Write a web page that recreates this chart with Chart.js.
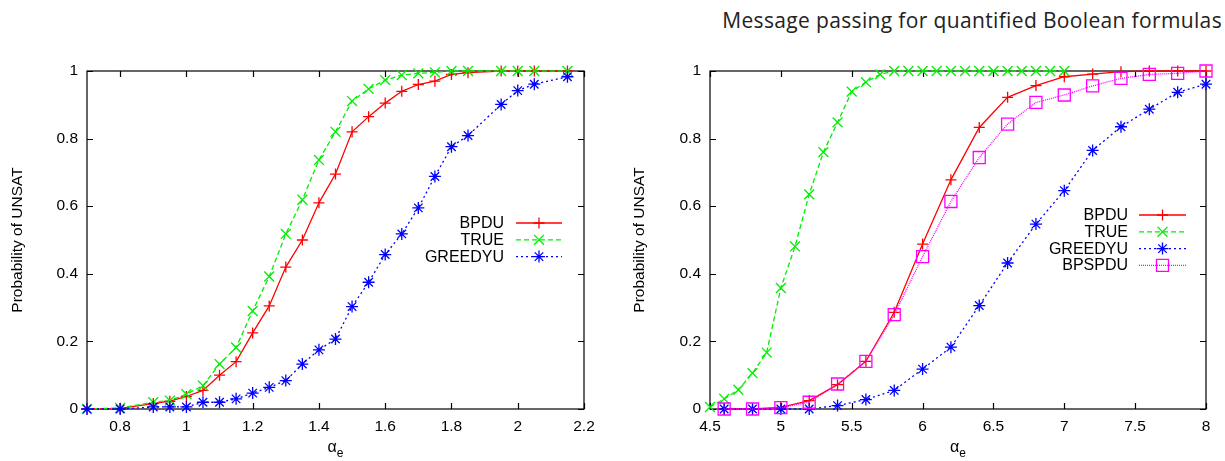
<!DOCTYPE html>
<html>
<head>
<meta charset="utf-8">
<script src="https://cdn.jsdelivr.net/npm/chart.js@4.4.0/dist/chart.umd.min.js"></script>
<style>
  html, body { margin: 0; padding: 0; background: #fff; }
  #page { position: relative; width: 1225px; height: 461px; overflow: hidden; }
  #title { position: absolute; right: 3px; top: 10px; font: 21px "Open Sans"; line-height: 21px; color: #222; white-space: nowrap; }
  .box { position: absolute; top: 0; height: 461px; }
</style>
</head>
<body>
<div id="page">
  <div id="title">Message passing for quantified Boolean formulas</div>
  <div class="box" style="left:0;width:612px"><canvas id="left-chart" width="612" height="461"></canvas></div>
  <div class="box" style="left:612px;width:613px"><canvas id="right-chart" width="613" height="461"></canvas></div>
</div>
<script>
// left panel: alpha_e from 0.7 to 2.15
const leftAlpha  = [0.7, 0.8, 0.9, 0.95, 1.0, 1.05, 1.1, 1.15, 1.2, 1.25, 1.3, 1.35, 1.4, 1.45, 1.5, 1.55, 1.6, 1.65, 1.7, 1.75, 1.8, 1.85, 1.95, 2.0, 2.05, 2.15];
const leftBpdu   = [0, 0.002, 0.016, 0.023, 0.037, 0.055, 0.10, 0.14, 0.225, 0.305, 0.42, 0.50, 0.61, 0.695, 0.82, 0.865, 0.905, 0.94, 0.96, 0.97, 0.99, 0.995, 1, 1, 1, 1];
const leftTrue   = [0, 0.003, 0.02, 0.025, 0.044, 0.069, 0.133, 0.182, 0.29, 0.392, 0.518, 0.619, 0.737, 0.82, 0.911, 0.947, 0.973, 0.988, 0.993, 0.996, 1, 1, 1, 1, 1, 1];
const leftGreedy = [0, 0, 0.006, 0.006, 0.006, 0.02, 0.02, 0.03, 0.047, 0.064, 0.084, 0.133, 0.175, 0.207, 0.303, 0.375, 0.457, 0.518, 0.595, 0.688, 0.776, 0.809, 0.901, 0.942, 0.961, 0.983];
const leftXTicks = [0.8, 1.0, 1.2, 1.4, 1.6, 1.8, 2.0, 2.2];

// right panel: TRUE sampled every 0.1, the solvers every 0.2
const rightAlphaTrue = [4.5, 4.6, 4.7, 4.8, 4.9, 5.0, 5.1, 5.2, 5.3, 5.4, 5.5, 5.6, 5.7, 5.8, 5.9, 6.0, 6.1, 6.2, 6.3, 6.4, 6.5, 6.6, 6.7, 6.8, 6.9, 7.0];
const rightTrue      = [0.006, 0.03, 0.057, 0.106, 0.167, 0.358, 0.481, 0.635, 0.76, 0.848, 0.939, 0.967, 0.99, 1, 1, 1, 1, 1, 1, 1, 1, 1, 1, 1, 1, 1];
const rightAlpha     = [4.6, 4.8, 5.0, 5.2, 5.4, 5.6, 5.8, 6.0, 6.2, 6.4, 6.6, 6.8, 7.0, 7.2, 7.4, 7.6, 7.8, 8.0];
const rightBpdu      = [0, 0, 0.005, 0.025, 0.072, 0.141, 0.286, 0.488, 0.678, 0.833, 0.922, 0.957, 0.983, 0.991, 0.998, 1, 1, 1];
const rightGreedy    = [0, 0, 0, 0, 0.01, 0.028, 0.055, 0.118, 0.183, 0.306, 0.432, 0.547, 0.646, 0.765, 0.835, 0.887, 0.937, 0.961];
const rightBpspdu    = [0, 0, 0.004, 0.02, 0.074, 0.141, 0.279, 0.451, 0.614, 0.744, 0.843, 0.907, 0.929, 0.956, 0.978, 0.99, 0.993, 1];
const rightXTicks    = [4.5, 5, 5.5, 6, 6.5, 7, 7.5, 8];

const yTicks = [0, 0.2, 0.4, 0.6, 0.8, 1];

const FONT = '"Liberation Sans", Arial, sans-serif';
const RED = '#ff0000', GREEN = '#00ee00', BLUE = '#0000ff', MAGENTA = '#ff00ff';

const pts = (xs, ys) => xs.map((x, i) => ({ x, y: ys[i] }));
const fmt = v => String(+(+v).toFixed(2));

function series(label, xs, ys, color, style, radius, dash, order) {
  return {
    label, data: pts(xs, ys), order,
    borderColor: color, backgroundColor: color,
    borderWidth: 1.3, borderDash: dash,
    pointStyle: style, pointRadius: radius, pointHoverRadius: radius,
    pointBorderColor: color, pointBackgroundColor: 'rgba(0,0,0,0)', pointBorderWidth: 1.3,
    fill: false, tension: 0, clip: false,
  };
}

// border box with inward ticks on all four sides
const frameTicks = {
  id: 'frameTicks',
  beforeDatasetsDraw(chart) {
    const { ctx, chartArea: a, scales } = chart;
    ctx.save();
    ctx.strokeStyle = '#000';
    ctx.lineWidth = 1.2;
    ctx.setLineDash([]);
    ctx.strokeRect(a.left, a.top, a.right - a.left, a.bottom - a.top);
    ctx.beginPath();
    scales.x.ticks.forEach(t => {
      const px = Math.round(scales.x.getPixelForValue(t.value)) + 0.5;
      ctx.moveTo(px, a.bottom); ctx.lineTo(px, a.bottom - 6);
      ctx.moveTo(px, a.top); ctx.lineTo(px, a.top + 6);
    });
    scales.y.ticks.forEach(t => {
      const py = Math.round(scales.y.getPixelForValue(t.value)) + 0.5;
      ctx.moveTo(a.left, py); ctx.lineTo(a.left + 6, py);
      ctx.moveTo(a.right, py); ctx.lineTo(a.right - 6, py);
    });
    ctx.stroke();
    ctx.restore();
  },
};

function marker(ctx, style, r, x, y) {
  if (Chart.helpers && Chart.helpers.drawPoint) {
    Chart.helpers.drawPoint(ctx, { pointStyle: style, radius: r, rotation: 0, borderWidth: 1.3 }, x, y);
  }
}

// in-plot key: right-aligned names, sample line with marker
const keyBox = {
  id: 'keyBox',
  afterDatasetsDraw(chart, args, opts) {
    const { ctx } = chart;
    ctx.save();
    ctx.font = '16px ' + FONT;
    ctx.textAlign = 'right';
    ctx.textBaseline = 'middle';
    chart.data.datasets.forEach((ds, i) => {
      const y = opts.top + i * opts.gap;
      ctx.fillStyle = '#000';
      ctx.fillText(ds.label, opts.textRight, y + 0.5);
      ctx.strokeStyle = ds.borderColor;
      ctx.lineWidth = 1.3;
      ctx.setLineDash(ds.borderDash || []);
      ctx.beginPath();
      ctx.moveTo(opts.lineFrom, y); ctx.lineTo(opts.lineTo, y);
      ctx.stroke();
      ctx.setLineDash([]);
      ctx.fillStyle = 'rgba(0,0,0,0)';
      marker(ctx, ds.pointStyle, ds.pointRadius, (opts.lineFrom + opts.lineTo) / 2, y);
    });
    ctx.restore();
  },
};

// axis titles: rotated y title, alpha with subscript e under the x axis
const axisTitles = {
  id: 'axisTitles',
  afterDraw(chart, args, opts) {
    const { ctx, chartArea: a } = chart;
    ctx.save();
    ctx.fillStyle = '#000';
    ctx.font = '15.5px ' + FONT;
    ctx.textAlign = 'center';
    ctx.textBaseline = 'middle';
    ctx.translate(opts.yTitleX, (a.top + a.bottom) / 2);
    ctx.rotate(-Math.PI / 2);
    ctx.fillText('Probability of UNSAT', 0, 0);
    ctx.restore();

    ctx.save();
    ctx.fillStyle = '#000';
    const cx = (a.left + a.right) / 2;
    ctx.font = '16px ' + FONT;
    ctx.textBaseline = 'alphabetic';
    const wA = ctx.measureText('α').width;
    ctx.font = '12px ' + FONT;
    const wE = ctx.measureText('e').width;
    const x0 = cx - (wA + wE) / 2;
    ctx.font = '16px ' + FONT;
    ctx.textAlign = 'left';
    ctx.fillText('α', x0, 452);
    ctx.font = '12px ' + FONT;
    ctx.fillText('e', x0 + wA, 457);
    ctx.restore();
  },
};

function makeChart(id, datasets, xMin, xMax, xTicks, layout, key) {
  return new Chart(document.getElementById(id), {
    type: 'line',
    data: { datasets },
    plugins: [frameTicks, keyBox, axisTitles],
    options: {
      responsive: false,
      animation: false,
      events: [],
      layout: { padding: { left: 0, top: 71, right: layout.right, bottom: 0 } },
      plugins: {
        legend: { display: false },
        tooltip: { enabled: false },
        keyBox: key,
        axisTitles: { yTitleX: layout.yTitleX },
      },
      scales: {
        x: {
          type: 'linear', min: xMin, max: xMax,
          afterBuildTicks: s => { s.ticks = xTicks.map(v => ({ value: v })); },
          afterFit: s => { s.height = 52; },
          grid: { display: false, drawTicks: false },
          border: { display: false },
          ticks: { color: '#000', font: { family: FONT, size: 15.5 }, padding: 8, maxRotation: 0, autoSkip: false, callback: fmt },
        },
        y: {
          type: 'linear', min: 0, max: 1,
          afterBuildTicks: s => { s.ticks = yTicks.map(v => ({ value: v })); },
          afterFit: s => { s.width = layout.yWidth; },
          grid: { display: false, drawTicks: false },
          border: { display: false },
          ticks: { color: '#000', font: { family: FONT, size: 15.5 }, padding: 9, autoSkip: false, callback: fmt },
        },
      },
    },
  });
}

makeChart('left-chart', [
  series('BPDU', leftAlpha, leftBpdu, RED, 'cross', 5.5, [], 3),
  series('TRUE', leftAlpha, leftTrue, GREEN, 'crossRot', 7, [5, 3], 2),
  series('GREEDYU', leftAlpha, leftGreedy, BLUE, 'star', 6, [2, 3], 1),
], 0.7, 2.2, leftXTicks,
  { right: 28, yWidth: 87, yTitleX: 18 },
  { textRight: 504, lineFrom: 516, lineTo: 562, top: 223, gap: 16.8 });

makeChart('right-chart', [
  series('BPDU', rightAlpha, rightBpdu, RED, 'cross', 5.5, [], 4),
  series('TRUE', rightAlphaTrue, rightTrue, GREEN, 'crossRot', 7, [5, 3], 3),
  series('GREEDYU', rightAlpha, rightGreedy, BLUE, 'star', 6, [2, 3], 2),
  series('BPSPDU', rightAlpha, rightBpspdu, MAGENTA, 'rect', 8.5, [1, 1], 1),
], 4.5, 8, rightXTicks,
  { right: 19, yWidth: 98, yTitleX: 28 },
  { textRight: 516, lineFrom: 527, lineTo: 574, top: 215, gap: 16.8 });

// stretch the heading to its full width with letter spacing
const title = document.getElementById('title');
const extra = 500 - title.getBoundingClientRect().width;
title.style.letterSpacing = (extra / title.textContent.length).toFixed(2) + 'px';
</script>
</body>
</html>
